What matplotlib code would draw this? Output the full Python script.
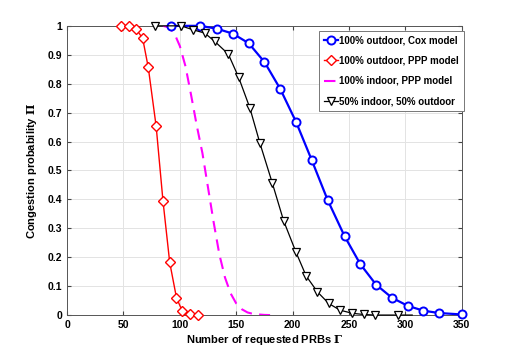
import matplotlib
matplotlib.use('Agg')
import matplotlib.pyplot as plt

# 100% outdoor, Cox model
cox_x = [92, 118, 133, 147, 161, 175, 189, 203, 217, 231, 246, 260, 274, 288, 302, 316, 330, 350]
cox_y = [1.0, 1.0, 0.99, 0.973, 0.94, 0.875, 0.782, 0.668, 0.535, 0.398, 0.273, 0.176, 0.105,
         0.06, 0.032, 0.015, 0.007, 0.002]

# 100% outdoor, PPP model
ppp_out_x = [48, 55, 61, 67, 72, 79, 85, 91, 97, 102, 109, 116]
ppp_out_y = [1.0, 1.0, 0.99, 0.957, 0.856, 0.652, 0.396, 0.182, 0.06, 0.015, 0.003, 0.0]

# 100% indoor, PPP model
ppp_in_x = [85, 90, 95, 100, 105, 110, 115, 120, 125, 130, 135, 140, 145, 150, 155, 160, 165, 170, 175, 180]
ppp_in_y = [1.0, 0.995, 0.975, 0.93, 0.86, 0.76, 0.655, 0.56, 0.44, 0.32, 0.21, 0.13, 0.075,
            0.04, 0.02, 0.009, 0.004, 0.002, 0.0005, 0.0]

# 50% indoor, 50% outdoor
mix_x = [78, 101, 112, 122, 131, 143, 152, 162, 171, 182, 192, 203, 212, 222, 232, 242, 253, 263, 273, 293, 306]
mix_y = [1.0, 1.0, 0.986, 0.975, 0.946, 0.902, 0.823, 0.717, 0.594, 0.456, 0.326, 0.217, 0.135,
         0.08, 0.04, 0.017, 0.006, 0.002, 0.0, 0.0, 0.0]

x_ticks = [0, 50, 100, 150, 200, 250, 300, 350]
y_ticks = [0, 0.1, 0.2, 0.3, 0.4, 0.5, 0.6, 0.7, 0.8, 0.9, 1]
y_tick_labels = ['0', '0.1', '0.2', '0.3', '0.4', '0.5', '0.6', '0.7', '0.8', '0.9', '1']

plt.rcParams['font.family'] = ['Liberation Sans', 'DejaVu Sans']
plt.rcParams['font.weight'] = 'bold'
plt.rcParams['mathtext.fontset'] = 'dejavuserif'

fig = plt.figure(figsize=(5.12, 3.54), dpi=100)
ax = fig.add_axes([0.131, 0.110, 0.771, 0.817])

ax.plot(cox_x, cox_y, color='blue', lw=1.6, marker='o', ms=5.8, mfc='white', mew=1.4,
        label='100% outdoor, Cox model', zorder=4, clip_on=False)
ax.plot(ppp_out_x, ppp_out_y, color='red', lw=1.0, marker='D', ms=4.8, mfc='white', mew=1.0,
        label='100% outdoor, PPP model', zorder=4, clip_on=False)
ax.plot(ppp_in_x, ppp_in_y, color='magenta', lw=1.5, ls=(0, (5.5, 3.5)),
        label='100% indoor, PPP model', zorder=3)
ax.plot(mix_x, mix_y, color='black', lw=0.9, marker='v', ms=5.8, mfc='white', mew=0.9,
        markevery=slice(0, len(mix_x) - 1), label='50% indoor, 50% outdoor', zorder=4,
        clip_on=False)

ax.set_xlim(0, 350)
ax.set_ylim(0, 1)
ax.set_xticks(x_ticks)
ax.set_yticks(y_ticks)
ax.set_yticklabels(y_tick_labels)
ax.tick_params(direction='in', labelsize=7.5, length=3, color='#444444', top=True, right=True)
ax.grid(True, color='#e3e3e3', lw=0.7)
ax.set_axisbelow(True)
for s in ax.spines.values():
    s.set_color('#555555')
    s.set_linewidth(0.7)

ax.set_xlabel(r'Number of requested PRBs $\Gamma$', fontsize=8, fontweight='bold', labelpad=2)
ax.set_ylabel(r'Congestion probability $\Pi$', fontsize=8, fontweight='bold', labelpad=6)

leg = ax.legend(loc='upper right', bbox_to_anchor=(1.017, 1.0), fontsize=7, handlelength=1.5,
                handletextpad=0.1, borderpad=0.5, labelspacing=1.05, fancybox=False,
                framealpha=1, edgecolor='#777777')
leg.get_frame().set_linewidth(0.7)
leg.set_zorder(5)

fig.savefig('out.png', dpi=100)
